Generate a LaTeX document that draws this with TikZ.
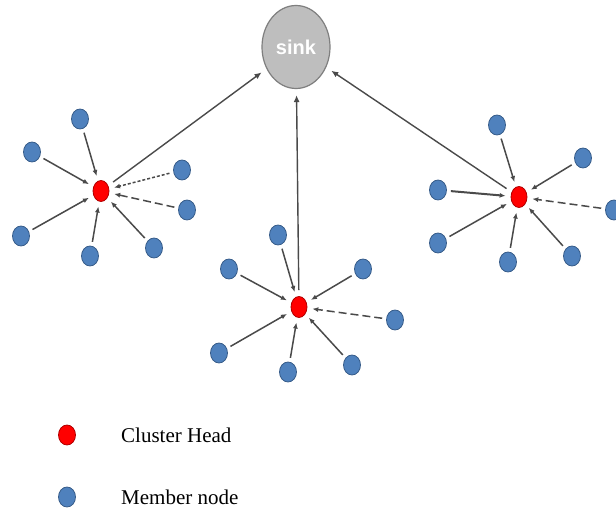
\documentclass[tikz,border=0pt]{standalone}
\usepackage{fontspec}
\setmainfont{Liberation Serif}
\usetikzlibrary{shapes.geometric,arrows.meta}
\definecolor{memfill}{HTML}{4F81BD}
\definecolor{memdraw}{HTML}{385D8A}
\definecolor{chfill}{HTML}{FF0000}
\definecolor{chdraw}{HTML}{B00000}
\definecolor{sinkfill}{HTML}{BEBEBE}
\definecolor{sinkdraw}{HTML}{7F7F7F}
\definecolor{arr}{HTML}{4A4A4A}
\tikzset{
  member/.style={ellipse,fill=memfill,draw=memdraw,line width=0.8pt,minimum width=17pt,minimum height=20pt,inner sep=0pt},
  chead/.style={ellipse,fill=chfill,draw=chdraw,line width=0.8pt,minimum width=16pt,minimum height=21pt,inner sep=0pt},
  sinknode/.style={ellipse,fill=sinkfill,draw=sinkdraw,line width=1.2pt,minimum width=68pt,minimum height=83pt,inner sep=0pt,text=white,font=\fontspec{Liberation Sans}\bfseries\fontsize{20}{21}\selectfont},
  link/.style={draw=arr,line width=1.5pt,-{Latex[length=6pt,width=5pt]},shorten >=5pt,shorten <=4pt},
  dlink/.style={link,dash pattern=on 3pt off 2pt},
  dashlink/.style={link,dash pattern=on 8pt off 4pt},
  uplink/.style={draw=arr,line width=1.4pt,-{Latex[length=7pt,width=6pt]},shorten >=6pt,shorten <=6pt},
  legend/.style={anchor=west,font=\fontsize{21}{24}\selectfont,inner sep=0pt}
}
\begin{document}
\begin{tikzpicture}[x=1pt,y=-1pt]
\clip (0,0) rectangle (616,513);
\fill[white] (0,0) rectangle (616,513);
% sink
\node[sinknode] (sink) at (296,47) {sink};
% cluster 1
\node[chead] (c1) at (101,191) {};
\node[member] (a1) at (80,119) {};
\node[member] (a2) at (32,152) {};
\node[member] (a3) at (182,170) {};
\node[member] (a4) at (187,210) {};
\node[member] (a5) at (21,236) {};
\node[member] (a6) at (90,256) {};
\node[member] (a7) at (154,248) {};
% cluster 2
\node[chead] (c2) at (299,307) {};
\node[member] (b1) at (278,235) {};
\node[member] (b2) at (229,269) {};
\node[member] (b3) at (363,269) {};
\node[member] (b4) at (395,320) {};
\node[member] (b5) at (219,353) {};
\node[member] (b6) at (288,372) {};
\node[member] (b7) at (352,365) {};
% cluster 3
\node[chead] (c3) at (519,197) {};
\node[member] (d1) at (497,125) {};
\node[member] (d2) at (583,158) {};
\node[member] (d3) at (438,190) {};
\node[member] (d4) at (614,210) {};
\node[member] (d5) at (438,243) {};
\node[member] (d6) at (508,262) {};
\node[member] (d7) at (572,256) {};
% links cluster 1
\draw[link] (a1) -- (c1);
\draw[link] (a2) -- (c1);
\draw[dlink] (a3) -- (c1);
\draw[dashlink] (a4) -- (c1);
\draw[link] (a5) -- (c1);
\draw[link] (a6) -- (c1);
\draw[link] (a7) -- (c1);
% links cluster 2
\draw[link] (b1) -- (c2);
\draw[link] (b2) -- (c2);
\draw[link] (b3) -- (c2);
\draw[dashlink] (b4) -- (c2);
\draw[link] (b5) -- (c2);
\draw[link] (b6) -- (c2);
\draw[link] (b7) -- (c2);
% links cluster 3
\draw[link] (d1) -- (c3);
\draw[link] (d2) -- (c3);
\draw[link,line width=2pt] (d3) -- (c3);
\draw[dashlink] (d4) -- (c3);
\draw[link] (d5) -- (c3);
\draw[link] (d6) -- (c3);
\draw[link] (d7) -- (c3);
% to sink
\draw[uplink] (c1) -- (sink);
\draw[uplink] (c2) -- (sink);
\draw[uplink] (c3) -- (sink);
% legend
\node[chead,minimum width=17pt,minimum height=20pt] (lch) at (67,435) {};
\node[member] (lm) at (67,497) {};
\node[legend] (tch) at (121,435) {Cluster Head};
\node[legend] (tm) at (121,497) {Member node};
\end{tikzpicture}
\end{document}
